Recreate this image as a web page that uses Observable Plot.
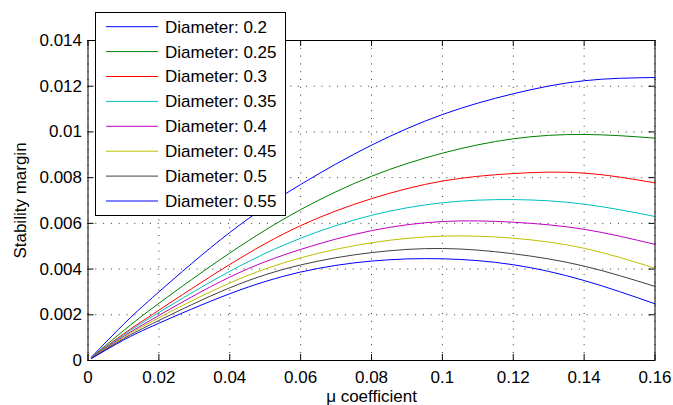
<!DOCTYPE html>
<html>
<head>
<meta charset="utf-8">
<script src="https://cdn.jsdelivr.net/npm/d3@7"></script>
<script src="https://cdn.jsdelivr.net/npm/@observablehq/plot@0.6"></script>
<style>
  html, body { margin: 0; padding: 0; background: #fff; }
  #wrap { position: relative; width: 673px; height: 405px; font-family: "Liberation Sans", Arial, Helvetica, sans-serif; }
  #legend { position: absolute; left: 95px; top: 12px; width: 191px; height: 204px; box-sizing: border-box; border: 1px solid #000; background: #fff; }
  #legend svg { display: block; }
</style>
</head>
<body>
<div id="wrap"><div id="legend"></div></div>
<script>
// ---- data ----
const mu = [0.001, 0.01, 0.02, 0.04, 0.06, 0.08, 0.10, 0.12, 0.14, 0.16];

const diameters = ["0.2", "0.25", "0.3", "0.35", "0.4", "0.45", "0.5", "0.55"];
const seriesColors = ["#0000ff", "#008000", "#ff0000", "#00bfbf", "#bf00bf", "#bfbf00", "#404040", "#0000ff"];

const d020 = [0.00015, 0.00158, 0.0030, 0.0056, 0.0077, 0.00942, 0.01076, 0.01167, 0.01224, 0.01238];
const d025 = [0.00014, 0.0013, 0.0025, 0.0047, 0.0066, 0.00806, 0.00907, 0.0097, 0.00989, 0.00973];
const d030 = [0.00013, 0.00116, 0.0022, 0.0042, 0.0059, 0.00708, 0.00785, 0.00818, 0.0082, 0.00777];
const d035 = [0.00012, 0.00111, 0.0021, 0.0039, 0.00535, 0.00635, 0.0069, 0.00704, 0.00684, 0.0063];
const d040 = [0.00011, 0.00105, 0.00197, 0.00365, 0.00486, 0.00568, 0.00608, 0.00605, 0.00574, 0.00508];
const d045 = [0.00011, 0.0010, 0.00187, 0.00339, 0.00449, 0.00515, 0.00544, 0.00535, 0.00491, 0.00404];
const d050 = [0.0001, 0.00095, 0.00175, 0.00318, 0.00418, 0.00472, 0.0049, 0.00467, 0.00413, 0.00324];
const d055 = [0.00009, 0.00089, 0.00163, 0.00292, 0.00387, 0.00435, 0.00445, 0.00419, 0.0035, 0.00248];

const xTicks = [0, 0.02, 0.04, 0.06, 0.08, 0.10, 0.12, 0.14, 0.16];
const yTicks = [0, 0.002, 0.004, 0.006, 0.008, 0.010, 0.012, 0.014];

// ---- build table ----
const allSeries = [d020, d025, d030, d035, d040, d045, d050, d055];
const rows = [];
allSeries.forEach((vals, i) => {
  vals.forEach((v, j) => rows.push({mu: mu[j], v, d: diameters[i], color: seriesColors[i]}));
});

const fmt = d => d === 0 ? "0" : String(+d.toFixed(3));
const FONT = '"Liberation Sans", Arial, Helvetica, sans-serif';
const W = 673, H = 405, ML = 87.5, MR = 18.5, MT = 40, MB = 45;
const innerW = W - ML - MR, innerH = H - MT - MB;
const TL = 6;

const gridStyle = {stroke: "#333", strokeOpacity: 1, strokeWidth: 1, strokeDasharray: "1,6.8"};

const chart = Plot.plot({
  width: W, height: H,
  marginLeft: ML, marginRight: MR, marginTop: MT, marginBottom: MB,
  style: {fontFamily: FONT, fontSize: "17px", color: "#000", background: "#fff"},
  x: {domain: [0, 0.16]},
  y: {domain: [0, 0.014]},
  color: {type: "identity"},
  marks: [
    Plot.gridX(xTicks, gridStyle),
    Plot.gridY(yTicks, gridStyle),
    Plot.line(rows, {x: "mu", y: "v", z: "d", stroke: "color", strokeWidth: 1, curve: "natural"}),
    Plot.frame({stroke: "#000", strokeWidth: 1}),
    Plot.tickX(xTicks, {x: d => d, insetTop: innerH - TL, stroke: "#000"}),
    Plot.tickX(xTicks, {x: d => d, insetBottom: innerH - TL, stroke: "#000"}),
    Plot.tickY(yTicks, {y: d => d, insetRight: innerW - TL, stroke: "#000"}),
    Plot.tickY(yTicks, {y: d => d, insetLeft: innerW - TL, stroke: "#000"}),
    Plot.axisX(xTicks, {tickSize: 0, tickPadding: 10.5, tickFormat: fmt, fontSize: 17, fill: "#000",
      label: "μ coefficient", labelAnchor: "center", labelOffset: 41, labelArrow: "none"}),
    Plot.axisY(yTicks, {tickSize: 0, tickPadding: 6, tickFormat: fmt, fontSize: 17, fill: "#000",
      label: "Stability margin", labelAnchor: "center", labelOffset: 74, labelArrow: "none"})
  ]
});
document.getElementById("wrap").prepend(chart);

// ---- legend (HTML/SVG overlay inside the axes) ----
const lg = d3.select("#legend").append("svg").attr("width", 189).attr("height", 202);
diameters.forEach((d, i) => {
  const y = 13.7 + 24.9 * i;
  lg.append("line").attr("x1", 10).attr("x2", 62).attr("y1", y).attr("y2", y)
    .attr("stroke", seriesColors[i]).attr("stroke-width", 1);
  lg.append("text").attr("x", 69).attr("y", y).attr("dy", "0.35em")
    .attr("font-family", FONT).attr("font-size", 17).attr("fill", "#000")
    .text("Diameter: " + d);
});
</script>
</body>
</html>
